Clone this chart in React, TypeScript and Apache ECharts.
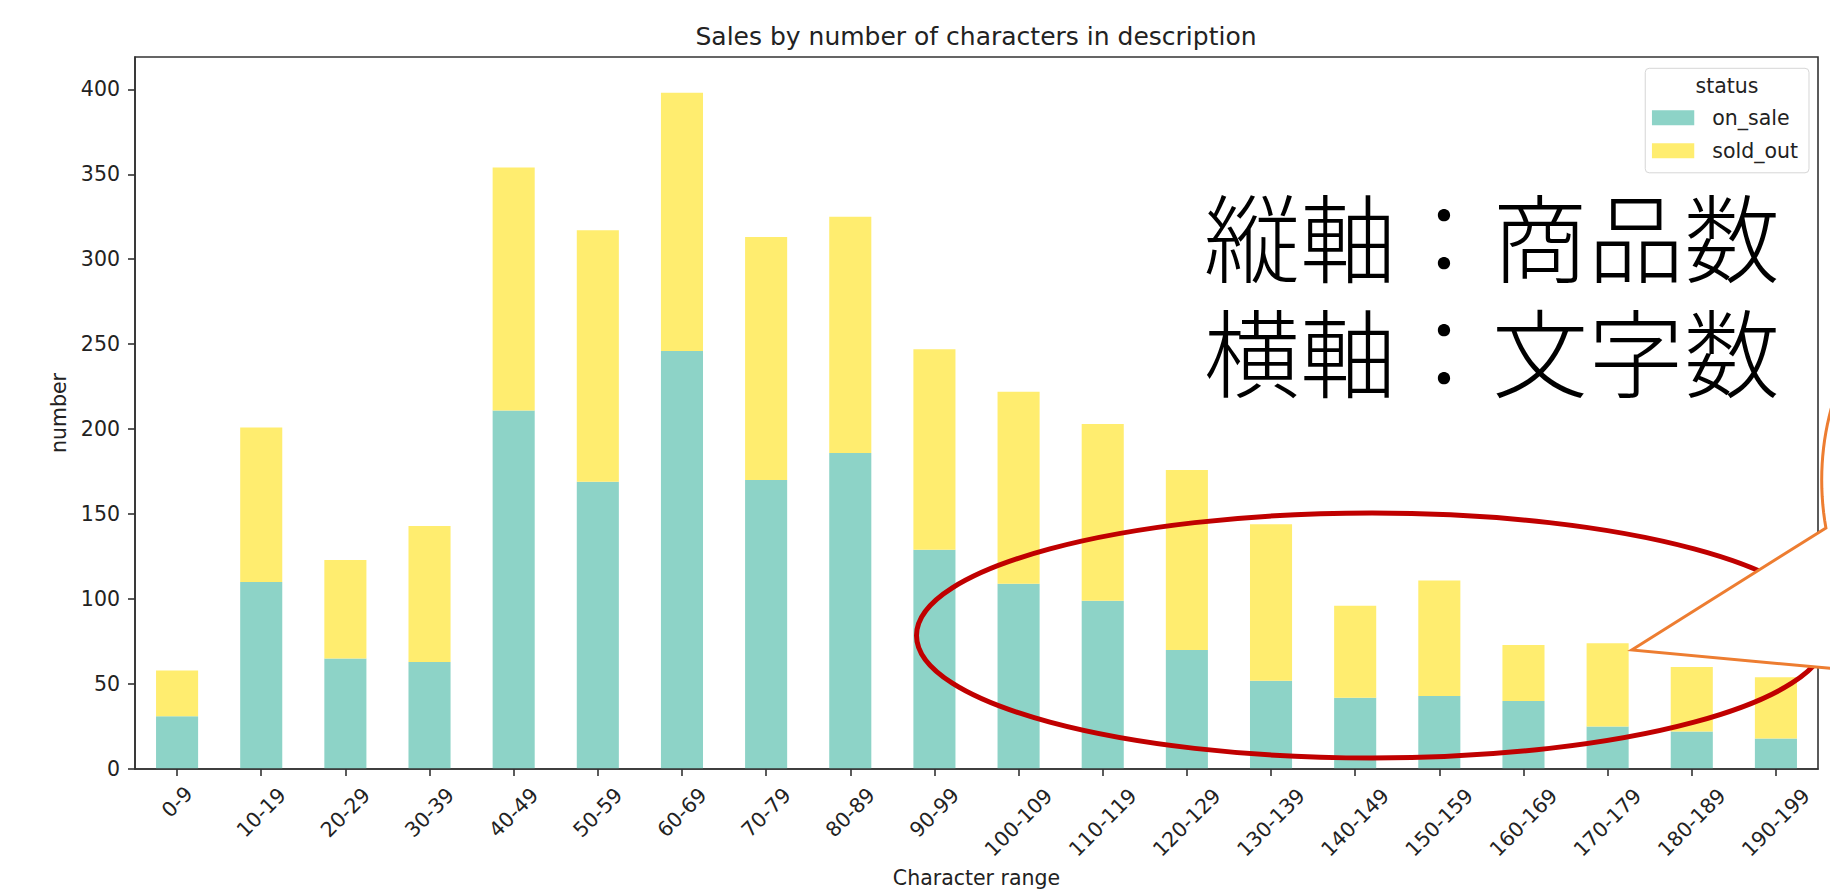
import React, { useEffect, useRef } from 'react';
import * as echarts from 'echarts';

const categories = [
  '0-9', '10-19', '20-29', '30-39', '40-49', '50-59', '60-69', '70-79', '80-89', '90-99',
  '100-109', '110-119', '120-129', '130-139', '140-149', '150-159', '160-169', '170-179', '180-189', '190-199',
];
const onSale = [31, 110, 65, 63, 211, 169, 246, 170, 186, 129, 109, 99, 70, 52, 42, 43, 40, 25, 22, 18];
const soldOut = [27, 91, 58, 80, 143, 148, 152, 143, 139, 118, 113, 104, 106, 92, 54, 68, 33, 49, 38, 36];
const yTicks = [0, 50, 100, 150, 200, 250, 300, 350, 400];
const seriesNames = ['on_sale', 'sold_out'];
const legendTitle = 'status';
const chartTitle = 'Sales by number of characters in description';
const xName = 'Character range';
const yName = 'number';
const annotationLines = ['縦軸：商品数', '横軸：文字数'];

const FONT = 'DejaVu Sans';
const TXT = '#222';
const TICK_FS = 20.5;

function calloutPoints(): number[][] {
  // speech-bubble (oval callout) mostly outside the right edge
  const cx = 1951.7, cy = 480, rx = 130, ry = 190;
  const pts: number[][] = [[1631.7, 650]];
  const t0 = Math.PI - Math.asin(48 / ry);
  const t1 = 2 * Math.PI;
  const n = 80;
  for (let i = 0; i <= n; i++) {
    const t = t0 + ((t1 - t0) * i) / n;
    pts.push([cx + rx * Math.cos(t), cy + ry * Math.sin(t)]);
  }
  pts.push([2000, 720]);
  pts.push([1900, 650 + 0.0924 * (1900 - 1631.7)]);
  return pts;
}

export default function App() {
  const ref = useRef<HTMLDivElement>(null);
  useEffect(() => {
    if (!ref.current) return;
    const chart = echarts.init(ref.current, undefined, { renderer: 'svg' });
    const rich = {
      s3: { fontFamily: FONT, fontSize: TICK_FS, color: TXT, padding: [0, 0, 0, 0] },
      s5: { fontFamily: FONT, fontSize: TICK_FS, color: TXT, padding: [15, 15, 0, 0] },
      s7: { fontFamily: FONT, fontSize: TICK_FS, color: TXT, padding: [29, 29, 0, 0] },
    };
    const option: any = {
      animation: false,
      backgroundColor: '#ffffff',
      title: {
        text: chartTitle,
        left: 971,
        top: 18.5,
        textAlign: 'center',
        textStyle: { fontFamily: FONT, fontSize: 25, fontWeight: 'normal', color: TXT },
      },
      grid: {
        left: 135,
        right: 12,
        top: 57,
        bottom: 123,
        show: true,
        borderColor: '#333',
        borderWidth: 1.6,
        backgroundColor: 'transparent',
        containLabel: false,
        outerBoundsMode: 'none',
      },
      legend: {
        data: seriesNames,
        orient: 'vertical',
        right: 21,
        top: 68.3,
        align: 'left',
        icon: 'rect',
        itemWidth: 42.3,
        itemHeight: 15,
        itemGap: 12,
        padding: [39, 11, 11.5, 6.7],
        backgroundColor: 'rgba(255,255,255,0.8)',
        borderColor: '#d6d6d6',
        borderWidth: 1,
        borderRadius: 4,
        selectedMode: false,
        textStyle: { fontFamily: FONT, fontSize: TICK_FS, color: TXT, lineHeight: 20, padding: [0, 0, 0, 13] },
      },
      xAxis: {
        type: 'category',
        data: categories,
        z: 5,
        name: xName,
        nameLocation: 'middle',
        nameGap: 97,
        nameTextStyle: { fontFamily: FONT, fontSize: TICK_FS, color: TXT },
        axisLine: { show: true, lineStyle: { color: '#333', width: 1.6 } },
        axisTick: { show: true, alignWithLabel: true, length: 7, lineStyle: { color: '#333', width: 1.6 } },
        axisLabel: {
          interval: 0,
          rotate: 45,
          align: 'center',
          verticalAlign: 'middle',
          margin: 33,
          fontFamily: FONT,
          fontSize: TICK_FS,
          color: TXT,
          formatter: (v: string) => `{s${v.length}|${v}}`,
          rich,
        },
        splitLine: { show: false },
      },
      yAxis: {
        type: 'value',
        min: 0,
        max: 419,
        interval: 50,
        z: 5,
        name: yName,
        nameLocation: 'middle',
        nameGap: 62,
        nameTextStyle: { fontFamily: FONT, fontSize: TICK_FS, color: TXT },
        axisLine: { show: true, lineStyle: { color: '#333', width: 1.6 } },
        axisTick: { show: true, length: 7, customValues: yTicks, lineStyle: { color: '#333', width: 1.6 } },
        axisLabel: { margin: 15, customValues: yTicks, fontFamily: FONT, fontSize: TICK_FS, color: TXT },
        splitLine: { show: false },
      },
      series: [
        {
          name: seriesNames[0],
          type: 'bar',
          stack: 'total',
          barWidth: '50%',
          data: onSale,
          itemStyle: { color: '#8DD3C7' },
        },
        {
          name: seriesNames[1],
          type: 'bar',
          stack: 'total',
          barWidth: '50%',
          data: soldOut,
          itemStyle: { color: '#FFED6F' },
        },
      ],
      graphic: [
        {
          type: 'ellipse',
          z: 10,
          silent: true,
          shape: { cx: 1372, cy: 635.5, rx: 455.5, ry: 122.5 },
          style: { fill: 'transparent', stroke: '#C00000', lineWidth: 5 },
        },
        {
          type: 'polygon',
          z: 11,
          silent: true,
          shape: { points: calloutPoints() },
          style: { fill: '#ffffff', stroke: '#ED7D31', lineWidth: 3, lineJoin: 'miter' },
        },
        {
          type: 'text',
          z: 12,
          silent: true,
          x: 1204,
          y: 175.5,
          style: {
            text: annotationLines.join('\n'),
            fontFamily: '"Noto Sans CJK JP Light", "Noto Sans CJK JP"',
            fontSize: 96,
            fontWeight: 300,
            lineHeight: 115,
            fill: '#000',
            align: 'left',
            verticalAlign: 'top',
          },
        },
        {
          type: 'text',
          z: 12,
          silent: true,
          x: 1727,
          y: 86,
          style: {
            text: legendTitle,
            fontFamily: FONT,
            fontSize: TICK_FS,
            fill: TXT,
            align: 'center',
            verticalAlign: 'middle',
          },
        },
      ],
    };
    chart.setOption(option);
    return () => chart.dispose();
  }, []);
  return (
    <div
      ref={ref}
      style={{ position: 'fixed', left: 0, top: 0, width: 1830, height: 892, background: '#fff' }}
    />
  );
}
